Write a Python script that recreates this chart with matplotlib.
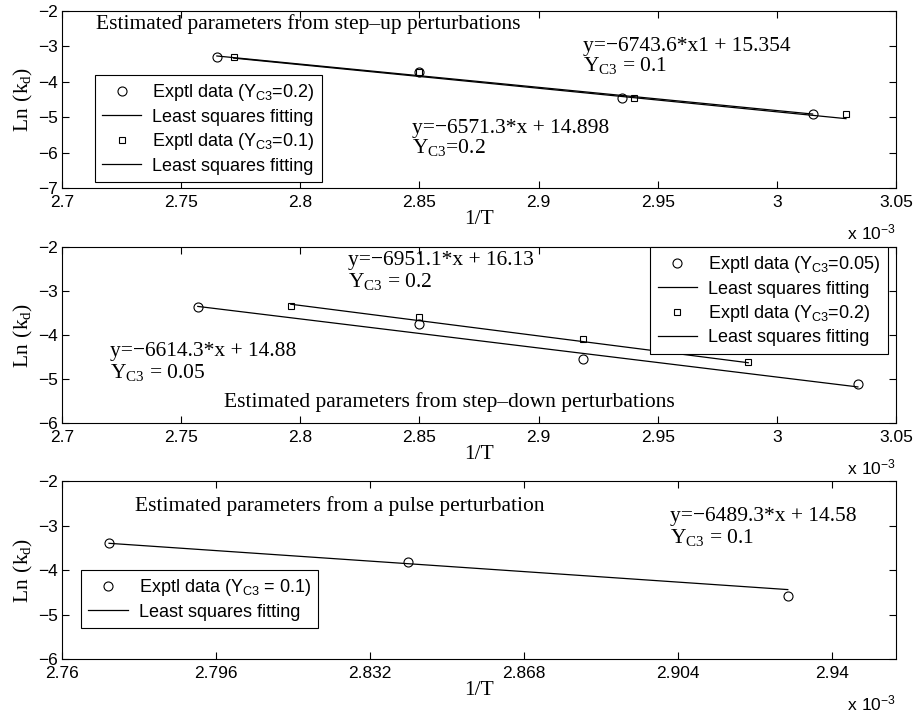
import numpy as np
import matplotlib
matplotlib.use('Agg')
import matplotlib.pyplot as plt

plt.rcParams['font.family'] = ['Liberation Sans', 'DejaVu Sans']
plt.rcParams['axes.linewidth'] = 0.8

SERIF = 'Liberation Serif'
FS = 15.5

# x values are in units of 1e-3 (1/T), y is Ln(kd)
# --- step-up perturbations
up_x_02 = [2.765, 2.850, 2.935, 3.015]
up_y_02 = [-3.30, -3.73, -4.45, -4.91]
up_x_01 = [2.772, 2.850, 2.940, 3.029]
up_y_01 = [-3.30, -3.71, -4.46, -4.92]
up_fit_x_02 = [2.765, 3.015]
up_fit_y_02 = [-3.27, -4.91]
up_fit_x_01 = [2.772, 3.029]
up_fit_y_01 = [-3.33, -5.04]

# --- step-down perturbations
down_x_005 = [2.757, 2.850, 2.9185, 3.034]
down_y_005 = [-3.36, -3.76, -4.55, -5.11]
down_x_02 = [2.796, 2.850, 2.9185, 2.988]
down_y_02 = [-3.33, -3.59, -4.10, -4.62]
down_fit_x_005 = [2.757, 3.034]
down_fit_y_005 = [-3.35, -5.18]
down_fit_x_02 = [2.796, 2.988]
down_fit_y_02 = [-3.30, -4.63]

# --- pulse perturbation
pulse_x = [2.771, 2.8408, 2.9297]
pulse_y = [-3.40, -3.81, -4.59]
pulse_fit_x = [2.771, 2.9297]
pulse_fit_y = [-3.40, -4.44]

ticks_x_1 = [2.7, 2.75, 2.8, 2.85, 2.9, 2.95, 3.0, 3.05]
ticklabels_x_1 = ['2.7', '2.75', '2.8', '2.85', '2.9', '2.95', '3', '3.05']
ticks_x_3 = [2.76, 2.796, 2.832, 2.868, 2.904, 2.94]
ticklabels_x_3 = ['2.76', '2.796', '2.832', '2.868', '2.904', '2.94']

YC = r'$\mathregular{Y_{C3}}$'


def style_axis(ax, xlim, ylim, xticks, xticklabels, yticks):
    ax.set_xlim(*xlim)
    ax.set_ylim(*ylim)
    ax.set_xticks(xticks)
    ax.set_xticklabels(xticklabels)
    ax.set_yticks(yticks)
    ax.tick_params(direction='in', top=True, right=True, length=5, width=0.8,
                   labelsize=12.5)
    ax.tick_params(axis='x', pad=5)
    ax.tick_params(axis='y', pad=3)
    ax.set_xlabel('1/T', family=SERIF, fontsize=FS, labelpad=0)
    ax.set_ylabel(r'$\mathregular{Ln\ (k_{d})}$', family=SERIF, fontsize=FS, labelpad=2)
    ax.text(1.0, -0.25, r'$\mathregular{x\ 10^{-3}}$', transform=ax.transAxes,
            ha='right', va='center', fontsize=12.5)


def add_legend(ax, loc, anchor):
    leg = ax.legend(loc=loc, bbox_to_anchor=anchor, borderaxespad=0, fancybox=False,
                    edgecolor='black', framealpha=1, fontsize=13, numpoints=1,
                    handlelength=2.2, handletextpad=0.6, labelspacing=0.3,
                    borderpad=0.4)
    leg.get_frame().set_linewidth(0.8)


def note(ax, x, y, s):
    ax.text(x, y, s, family=SERIF, fontsize=FS, va='baseline', ha='left')


fig = plt.figure(figsize=(9.17, 7.16), dpi=100)
left, width = 0.0676, 0.9095
ax1 = fig.add_axes([left, 0.7374, width, 0.2472])
ax2 = fig.add_axes([left, 0.4092, width, 0.2458])
ax3 = fig.add_axes([left, 0.0796, width, 0.2486])

mk = dict(linestyle='none', markerfacecolor='none', markeredgecolor='black',
          markeredgewidth=0.8)

# panel 1
ax1.plot(up_x_02, up_y_02, marker='o', markersize=6.5, label='Exptl data (' + YC + '=0.2)', **mk)
ax1.plot(up_fit_x_02, up_fit_y_02, color='black', lw=0.9, label='Least squares fitting')
ax1.plot(up_x_01, up_y_01, marker='s', markersize=5, label='Exptl data (' + YC + '=0.1)', **mk)
ax1.plot(up_fit_x_01, up_fit_y_01, color='black', lw=0.9, label='Least squares fitting')
style_axis(ax1, (2.7, 3.05), (-7, -2), ticks_x_1, ticklabels_x_1, range(-7, -1))
add_legend(ax1, 'upper left', (0.039, 0.638))
note(ax1, 2.7144, -2.52, 'Estimated parameters from step\u2013up perturbations')
note(ax1, 2.9186, -3.12, 'y=\u22126743.6*x1 + 15.354')
note(ax1, 2.9186, -3.70, YC + ' = 0.1')
note(ax1, 2.847, -5.45, 'y=\u22126571.3*x + 14.898')
note(ax1, 2.847, -6.01, YC + '=0.2')

# panel 2
ax2.plot(down_x_005, down_y_005, marker='o', markersize=6.5, label='Exptl data (' + YC + '=0.05)', **mk)
ax2.plot(down_fit_x_005, down_fit_y_005, color='black', lw=0.9, label='Least squares fitting')
ax2.plot(down_x_02, down_y_02, marker='s', markersize=5, label='Exptl data (' + YC + '=0.2)', **mk)
ax2.plot(down_fit_x_02, down_fit_y_02, color='black', lw=0.9, label='Least squares fitting')
style_axis(ax2, (2.7, 3.05), (-6, -2), ticks_x_1, ticklabels_x_1, range(-6, -1))
add_legend(ax2, 'upper right', (0.99, 1.0))
note(ax2, 2.820, -2.42, 'y=\u22126951.1*x + 16.13')
note(ax2, 2.820, -2.92, YC + ' = 0.2')
note(ax2, 2.720, -4.48, 'y=\u22126614.3*x + 14.88')
note(ax2, 2.720, -4.98, YC + ' = 0.05')
note(ax2, 2.768, -5.63, 'Estimated parameters from step\u2013down perturbations')

# panel 3
ax3.plot(pulse_x, pulse_y, marker='o', markersize=6.5, label='Exptl data (' + YC + ' = 0.1)', **mk)
ax3.plot(pulse_fit_x, pulse_fit_y, color='black', lw=0.9, label='Least squares fitting')
style_axis(ax3, (2.76, 2.955), (-6, -2), ticks_x_3, ticklabels_x_3, range(-6, -1))
add_legend(ax3, 'upper left', (0.0225, 0.5))
note(ax3, 2.777, -2.67, 'Estimated parameters from a pulse perturbation')
note(ax3, 2.9022, -2.89, 'y=\u22126489.3*x + 14.58')
note(ax3, 2.9022, -3.39, YC + ' = 0.1')

fig.savefig('out.png', dpi=100)
